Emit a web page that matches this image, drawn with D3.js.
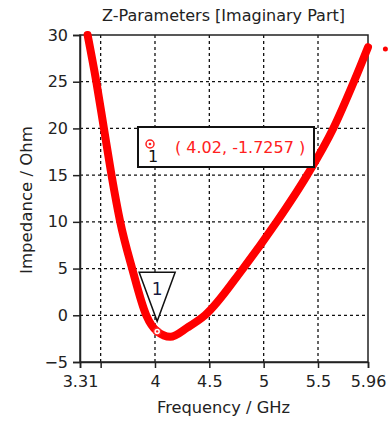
<!DOCTYPE html>
<html>
<head>
<meta charset="utf-8">
<script src="https://cdn.jsdelivr.net/npm/d3@7"></script>
<style>
  html, body { margin: 0; padding: 0; background: #fff; }
  svg { display: block; }
  text { font-family: "DejaVu Sans", Verdana, sans-serif; fill: #222; }
</style>
</head>
<body>
<svg id="chart" width="389" height="423"></svg>
<script>
// Imaginary part of Z (Ohm) versus frequency (GHz)
const freq = [3.38, 3.46, 3.53, 3.60, 3.68, 3.79, 3.92, 4.02, 4.14, 4.3, 4.46, 4.81, 5.12, 5.40, 5.64, 5.83, 5.96];
const imagZ = [30, 25, 20, 15, 10, 5, 0, -1.7257, -2.3, -1.3, 0, 5, 10, 15, 20, 25, 28.7];

const xTicks = [3.31, 3.5, 4, 4.5, 5, 5.5, 5.96];
const xTickLabels = ["3.31", "", "4", "4.5", "5", "5.5", "5.96"];
const yTicks = [-5, 0, 5, 10, 15, 20, 25, 30];

const markerFreq = [4.02];
const markerValue = [-1.7257];
const markerName = ["1"];

const extraFreq = [6.12];
const extraValue = [28.5];

const svg = d3.select("#chart");
const margin = { left: 80, top: 35, right: 21, bottom: 61 };
const W = 389, H = 423;
const plotW = W - margin.left - margin.right;
const plotH = H - margin.top - margin.bottom;

const x = d3.scaleLinear().domain([3.31, 5.96]).range([margin.left, margin.left + plotW]);
const y = d3.scaleLinear().domain([-5, 30]).range([margin.top + plotH, margin.top]);

// grid
const grid = svg.append("g").attr("stroke", "#111").attr("stroke-width", 1.3).attr("stroke-dasharray", "3,3");
grid.selectAll("line.v").data(xTicks.slice(1, -1)).join("line")
  .attr("x1", d => x(d)).attr("x2", d => x(d))
  .attr("y1", y(30)).attr("y2", y(-5));
grid.selectAll("line.h").data(yTicks.slice(1, -1)).join("line")
  .attr("x1", x(3.31)).attr("x2", x(5.96))
  .attr("y1", d => y(d)).attr("y2", d => y(d));

// frame
svg.append("rect")
  .attr("x", x(3.31)).attr("y", y(30))
  .attr("width", x(5.96) - x(3.31)).attr("height", y(-5) - y(30))
  .attr("fill", "none").attr("stroke", "#222").attr("stroke-width", 1.5);

// axes
const xAxis = d3.axisBottom(x).tickValues(xTicks).tickSize(6).tickPadding(8)
  .tickFormat((d, i) => xTickLabels[i]);
const gx = svg.append("g").attr("transform", `translate(0,${y(-5)})`).call(xAxis);
const yAxis = d3.axisLeft(y).tickValues(yTicks).tickSize(7).tickPadding(5).tickFormat(d3.format("d"));
const gy = svg.append("g").attr("transform", `translate(${x(3.31)},0)`).call(yAxis);
[gx, gy].forEach(g => {
  g.select(".domain").attr("stroke", "#222").attr("stroke-width", 1.5);
  g.selectAll(".tick line").attr("stroke", "#222").attr("stroke-width", 1.5);
  g.selectAll(".tick text").attr("font-size", 16).attr("fill", "#222")
    .attr("font-family", "DejaVu Sans, Verdana, sans-serif");
});

// curve
const pts = freq.map((f, i) => [f, imagZ[i]]);
const line = d3.line().x(d => x(d[0])).y(d => y(d[1])).curve(d3.curveMonotoneX);
svg.append("path").datum(pts).attr("d", line)
  .attr("fill", "none").attr("stroke", "#ff0000").attr("stroke-width", 8)
  .attr("stroke-linecap", "round").attr("stroke-linejoin", "round");

svg.selectAll("circle.extra").data(extraFreq).join("circle")
  .attr("cx", d => x(d)).attr("cy", (d, i) => y(extraValue[i])).attr("r", 2.5).attr("fill", "#ff0000");

// marker on curve
markerFreq.forEach((f, i) => {
  const mx = x(f), my = y(markerValue[i]);
  svg.append("circle").attr("cx", mx).attr("cy", my).attr("r", 3.5)
    .attr("fill", "#fff").attr("stroke", "#ff2020").attr("stroke-width", 1.5);
  svg.append("circle").attr("cx", mx).attr("cy", my).attr("r", 1.2).attr("fill", "#ff2020");
  // triangle flag above the marker
  const tipY = y(0) + 6;
  svg.append("path")
    .attr("d", `M${mx - 18},${tipY - 49}L${mx + 18},${tipY - 49}L${mx},${tipY}Z`)
    .attr("fill", "#fff").attr("stroke", "#111").attr("stroke-width", 1.5);
  svg.append("text").attr("x", mx).attr("y", tipY - 26).attr("text-anchor", "middle")
    .attr("font-family", "Liberation Serif, serif").attr("font-size", 17)
    .style("fill", "#1a1a40").text(markerName[i]);

  // readout box
  const bx = 138, by = 127, bw = 176, bh = 40;
  svg.append("rect").attr("x", bx).attr("y", by).attr("width", bw).attr("height", bh)
    .attr("fill", "#fff").attr("stroke", "#111").attr("stroke-width", 2);
  svg.append("circle").attr("cx", bx + 12).attr("cy", by + 17).attr("r", 4)
    .attr("fill", "#fff").attr("stroke", "#ff2020").attr("stroke-width", 1.5);
  svg.append("circle").attr("cx", bx + 12).attr("cy", by + 17).attr("r", 1.3).attr("fill", "#ff2020");
  svg.append("text").attr("x", bx + 15).attr("y", by + 35).attr("text-anchor", "middle")
    .attr("font-family", "Liberation Serif, serif").attr("font-size", 16)
    .style("fill", "#111").text(markerName[i]);
  svg.append("text").attr("x", bx + 37).attr("y", by + 26)
    .attr("font-size", 16).style("fill", "#ff2020")
    .text(`( ${f.toFixed(2)}, ${markerValue[i]} )`);
});

// titles
svg.append("text").attr("x", 223.5).attr("y", 21).attr("text-anchor", "middle")
  .attr("font-size", 16).attr("textLength", 243).attr("lengthAdjust", "spacingAndGlyphs")
  .text("Z-Parameters [Imaginary Part]");
svg.append("text").attr("x", 223.5).attr("y", 413).attr("text-anchor", "middle")
  .attr("font-size", 16).attr("textLength", 133).attr("lengthAdjust", "spacingAndGlyphs")
  .text("Frequency / GHz");
svg.append("text").attr("transform", `translate(32,200) rotate(-90)`)
  .attr("text-anchor", "middle").attr("font-size", 16)
  .attr("textLength", 148).attr("lengthAdjust", "spacingAndGlyphs")
  .text("Impedance / Ohm");
</script>
</body>
</html>
